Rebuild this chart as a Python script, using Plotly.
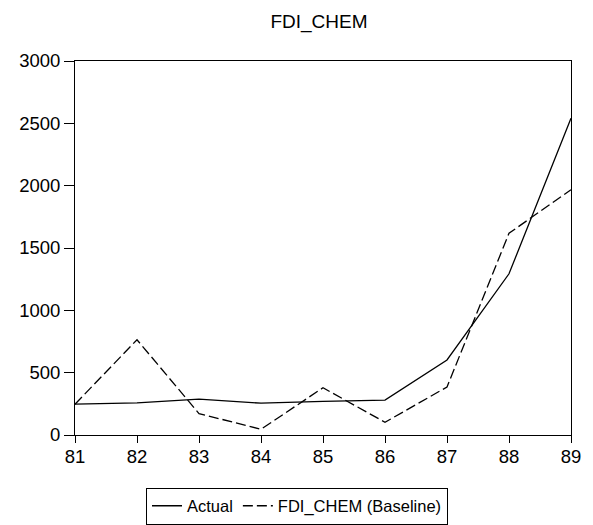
import plotly.graph_objects as go

years = ["81", "82", "83", "84", "85", "86", "87", "88", "89"]
x_pos = [81, 82, 83, 84, 85, 86, 87, 88, 89]
actual = [247, 258, 288, 255, 269, 280, 602, 1293, 2540]
baseline = [247, 764, 172, 46, 379, 102, 385, 1618, 1968]
y_ticks = [0, 500, 1000, 1500, 2000, 2500, 3000]

fig = go.Figure()
fig.add_trace(go.Scatter(x=x_pos, y=actual, mode="lines", name="Actual",
                         line=dict(color="black", width=1.3)))
fig.add_trace(go.Scatter(x=x_pos, y=baseline, mode="lines", name="FDI_CHEM (Baseline)",
                         line=dict(color="black", width=1.3, dash="10px,4px")))

font = "Liberation Sans, Arial, sans-serif"
fig.update_layout(
    width=593, height=525,
    margin=dict(l=75, r=22, t=61, b=90, autoexpand=False),
    paper_bgcolor="white", plot_bgcolor="white",
    font=dict(family=font, color="black", size=18),
    title=dict(text="FDI_CHEM", x=319/593, xanchor="center", y=1-21/525, yanchor="middle",
               font=dict(size=19, family=font, color="black")),
    showlegend=True,
    legend=dict(orientation="h", xref="container", yref="container",
                x=297/593, xanchor="center", y=1-506/525, yanchor="middle",
                bordercolor="black", borderwidth=1, bgcolor="white",
                font=dict(size=16.5, family=font, color="black"),
                itemwidth=30, tracegroupgap=0),
)
fig.update_xaxes(range=[81, 89], tickvals=x_pos, ticktext=years,
                 showgrid=False, zeroline=False, showline=True, linecolor="black",
                 linewidth=1, mirror=True, ticks="outside", ticklen=7, tickcolor="black",
                 ticklabelstandoff=-2, tickfont=dict(size=18.5))
fig.update_yaxes(range=[0, 3000], tickvals=y_ticks,
                 showgrid=False, zeroline=False, showline=True, linecolor="black",
                 linewidth=1, mirror=True, ticks="outside", ticklen=10, tickcolor="black",
                 tickfont=dict(size=18.5))

fig.write_html("out.html", config={"displayModeBar": False},
               post_script="document.body.style.margin='0';")
